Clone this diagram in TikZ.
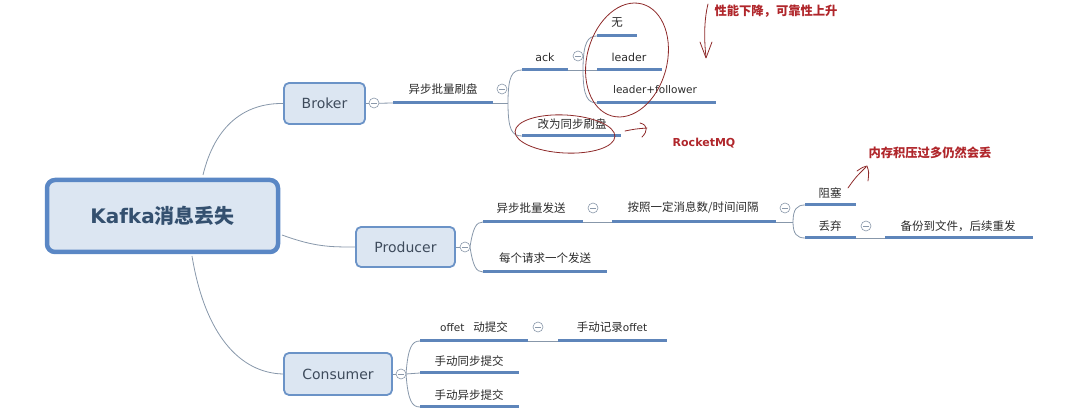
\documentclass[tikz,border=0pt]{standalone}
\usepackage{fontspec}
\setmainfont{Noto Sans CJK SC}
\newfontfamily\lat{DejaVu Sans}
\definecolor{boxfill}{HTML}{DCE6F2}
\definecolor{boxborder}{HTML}{6B93C7}
\definecolor{rootborder}{HTML}{5A87C5}
\definecolor{roottext}{HTML}{34506F}
\definecolor{boxtext}{HTML}{3E4B5C}
\definecolor{txt}{HTML}{2B2B2B}
\definecolor{ulcol}{HTML}{5E85BA}
\definecolor{conncol}{HTML}{8797AA}
\definecolor{collcol}{HTML}{8A98AA}
\definecolor{redtext}{HTML}{B0262B}
\definecolor{redline}{HTML}{8E2A2A}
\begin{document}
\begin{tikzpicture}[x=1pt,y=-1pt,
  box/.style={draw=boxborder, fill=boxfill, line width=1.8pt, rounded corners=5pt, inner sep=0pt, text=boxtext, font=\lat\fontsize{14}{16}\selectfont},
  rootbox/.style={draw=rootborder, fill=boxfill, line width=4.5pt, rounded corners=8pt, minimum width=231pt, minimum height=72pt, inner sep=0pt, text=roottext, font=\bfseries\fontsize{20}{24}\selectfont},
  lbl/.style={inner sep=0pt, text=txt, font=\fontsize{11.5}{13}\selectfont},
  uline/.style={draw=ulcol, line width=3pt},
  conn/.style={draw=conncol, line width=0.8pt},
  coll/.style={circle, draw=collcol, fill=white, line width=0.6pt, minimum size=10pt, inner sep=0pt,
    path picture={\draw[collcol, line width=0.7pt] ([xshift=-2.6pt]path picture bounding box.center) -- ([xshift=2.6pt]path picture bounding box.center);}},
  redtxt/.style={inner sep=0pt, text=redtext, font=\bfseries\fontsize{12.3}{14}\selectfont},
  redpen/.style={draw=redline, line width=0.8pt, line cap=round, line join=round}]
\useasboundingbox (0,0) rectangle (1080,411);

% main boxes
\node[rootbox] (root) at (162.5,216) {{\lat Kafka}消息丢失};
\node[box, minimum width=81pt, minimum height=41pt] (broker) at (324.5,103.5) {Broker};
\node[box, minimum width=99pt, minimum height=40pt] (producer) at (405.5,247) {Producer};
\node[box, minimum width=108pt, minimum height=42pt] (consumer) at (338,374) {Consumer};

% coordinates
\coordinate (r1) at (203,175);
\coordinate (r2) at (282,235);
\coordinate (r3) at (192,256);
\coordinate (aL) at (393,103); \coordinate (aR) at (493,103); \coordinate (aJ) at (508,103);
\coordinate (ackL) at (522,70); \coordinate (ackR) at (568,70); \coordinate (ackJ) at (583,70);
\coordinate (syL) at (522,136); \coordinate (syR) at (621,136);
\coordinate (wuL) at (597,36); \coordinate (wuR) at (637,36);
\coordinate (ldL) at (597,70); \coordinate (ldR) at (662,70);
\coordinate (lfL) at (597,103); \coordinate (lfR) at (716,103);
\coordinate (pJ) at (470,247);
\coordinate (asL) at (483,222); \coordinate (asR) at (583,222);
\coordinate (evL) at (483,272); \coordinate (evR) at (607,272);
\coordinate (anL) at (612,222); \coordinate (anR) at (776,222); \coordinate (anJ) at (793,222);
\coordinate (zsL) at (805,205); \coordinate (zsR) at (856,205);
\coordinate (dqL) at (805,238); \coordinate (dqR) at (856,238);
\coordinate (bfL) at (885,238); \coordinate (bfR) at (1033,238);
\coordinate (cJ) at (406,374);
\coordinate (ofL) at (420,341); \coordinate (ofR) at (528,341);
\coordinate (msL) at (420,373); \coordinate (msR) at (519,373);
\coordinate (maL) at (420,407); \coordinate (maR) at (519,407);
\coordinate (mrL) at (558,341); \coordinate (mrR) at (667,341);

% connectors from root
\draw[conn] (r1) .. controls (215,125) and (245,103) .. (broker.west);
\draw[conn] (r2) .. controls (315,247) and (330,247) .. (producer.west);
\draw[conn] (r3) .. controls (205,335) and (240,373) .. (consumer.west);

% broker branch
\draw[conn] (broker.east) -- (aL);
\draw[conn] (aR) -- (aJ);
\draw[conn] (aJ) .. controls (508,76) and (512,70) .. (ackL);
\draw[conn] (aJ) .. controls (508,130) and (512,136) .. (syL);
\draw[conn] (ackR) -- (ldL);
\draw[conn] (ackJ) .. controls (583,42) and (588,36) .. (wuL);
\draw[conn] (ackJ) .. controls (583,97) and (588,103) .. (lfL);

% producer branch
\draw[conn] (producer.east) -- (pJ);
\draw[conn] (pJ) .. controls (473,228) and (476,222) .. (asL);
\draw[conn] (pJ) .. controls (473,266) and (476,272) .. (evL);
\draw[conn] (asR) -- (anL);
\draw[conn] (anR) -- (anJ);
\draw[conn] (anJ) .. controls (793,209) and (797,205) .. (zsL);
\draw[conn] (anJ) .. controls (793,234) and (797,238) .. (dqL);
\draw[conn] (dqR) -- (bfL);

% consumer branch
\draw[conn] (consumer.east) -- (cJ);
\draw[conn] (cJ) .. controls (408,347) and (412,341) .. (ofL);
\draw[conn] (cJ) -- (msL);
\draw[conn] (cJ) .. controls (408,401) and (412,407) .. (maL);
\draw[conn] (ofR) -- (mrL);

% underlines
\foreach \a/\b in {aL/aR,ackL/ackR,syL/syR,wuL/wuR,ldL/ldR,lfL/lfR,asL/asR,evL/evR,anL/anR,zsL/zsR,dqL/dqR,bfL/bfR,ofL/ofR,msL/msR,maL/maR,mrL/mrR}
  \draw[uline] (\a) -- (\b);

% labels
\node[lbl] (t1) at (443,89) {异步批量刷盘};
\node[lbl, font=\lat\fontsize{11}{13}\selectfont] (t2) at (545,57) {ack};
\node[lbl] (t3) at (572,124) {改为同步刷盘};
\node[lbl] (t4) at (617,23) {无};
\node[lbl, font=\lat\fontsize{11}{13}\selectfont] (t5) at (629,57) {leader};
\node[lbl, font=\lat\fontsize{10.5}{13}\selectfont] (t6) at (655,90) {leader+follower};
\node[lbl] (t7) at (531,208) {异步批量发送};
\node[lbl] (t8) at (545,258) {每个请求一个发送};
\node[lbl] (t9) at (693,208) {按照一定消息数/时间间隔};
\node[lbl] (t10) at (830,193) {阻塞};
\node[lbl] (t11) at (830,226) {丢弃};
\node[lbl] (t12) at (958,226) {备份到文件，后续重发};
\node[lbl] (t13) at (474,327) {{\lat\fontsize{10.5}{13}\selectfont offet}\hspace{9pt}动提交};
\node[lbl] (t14) at (469,361) {手动同步提交};
\node[lbl] (t15) at (469,395) {手动异步提交};
\node[lbl] (t16) at (612,327) {手动记录{\lat\fontsize{10.5}{13}\selectfont offet}};

% collapse circles
\node[coll] (c1) at (374,103) {};
\node[coll] (c2) at (502,89) {};
\node[coll] (c3) at (578,56) {};
\node[coll] (c4) at (465,247) {};
\node[coll] (c5) at (593,208) {};
\node[coll] (c6) at (785,208) {};
\node[coll] (c7) at (866,226) {};
\node[coll] (c8) at (401,374) {};
\node[coll] (c9) at (538,327) {};

% red annotations
\draw[redpen, rotate around={-15:(627,60)}] (627,60) ellipse [x radius=40, y radius=58];
\draw[redpen, rotate around={-3:(565,134)}] (565,134) ellipse [x radius=50, y radius=19];
\draw[redpen] (708,4) .. controls (704,20) and (704,40) .. (706,57);
\draw[redpen] (700,42) .. controls (703,50) .. (706,58) .. controls (709,50) .. (712,42);
\draw[redpen] (625,131) .. controls (635,129) .. (647,128);
\draw[redpen] (640,123) .. controls (648,125) and (648,131) .. (642,137);
\draw[redpen] (848,188) .. controls (855,178) .. (866,167);
\draw[redpen] (857,171) .. controls (863,167) .. (867,166) .. controls (869,172) .. (868,181);
\node[redtxt] (n1) at (776,11) {性能下降，可靠性上升};
\node[redtxt, font=\lat\bfseries\fontsize{11}{13}\selectfont] (n2) at (704,143) {RocketMQ};
\node[redtxt] (n3) at (930,153) {内存积压过多仍然会丢};
\end{tikzpicture}
\end{document}
